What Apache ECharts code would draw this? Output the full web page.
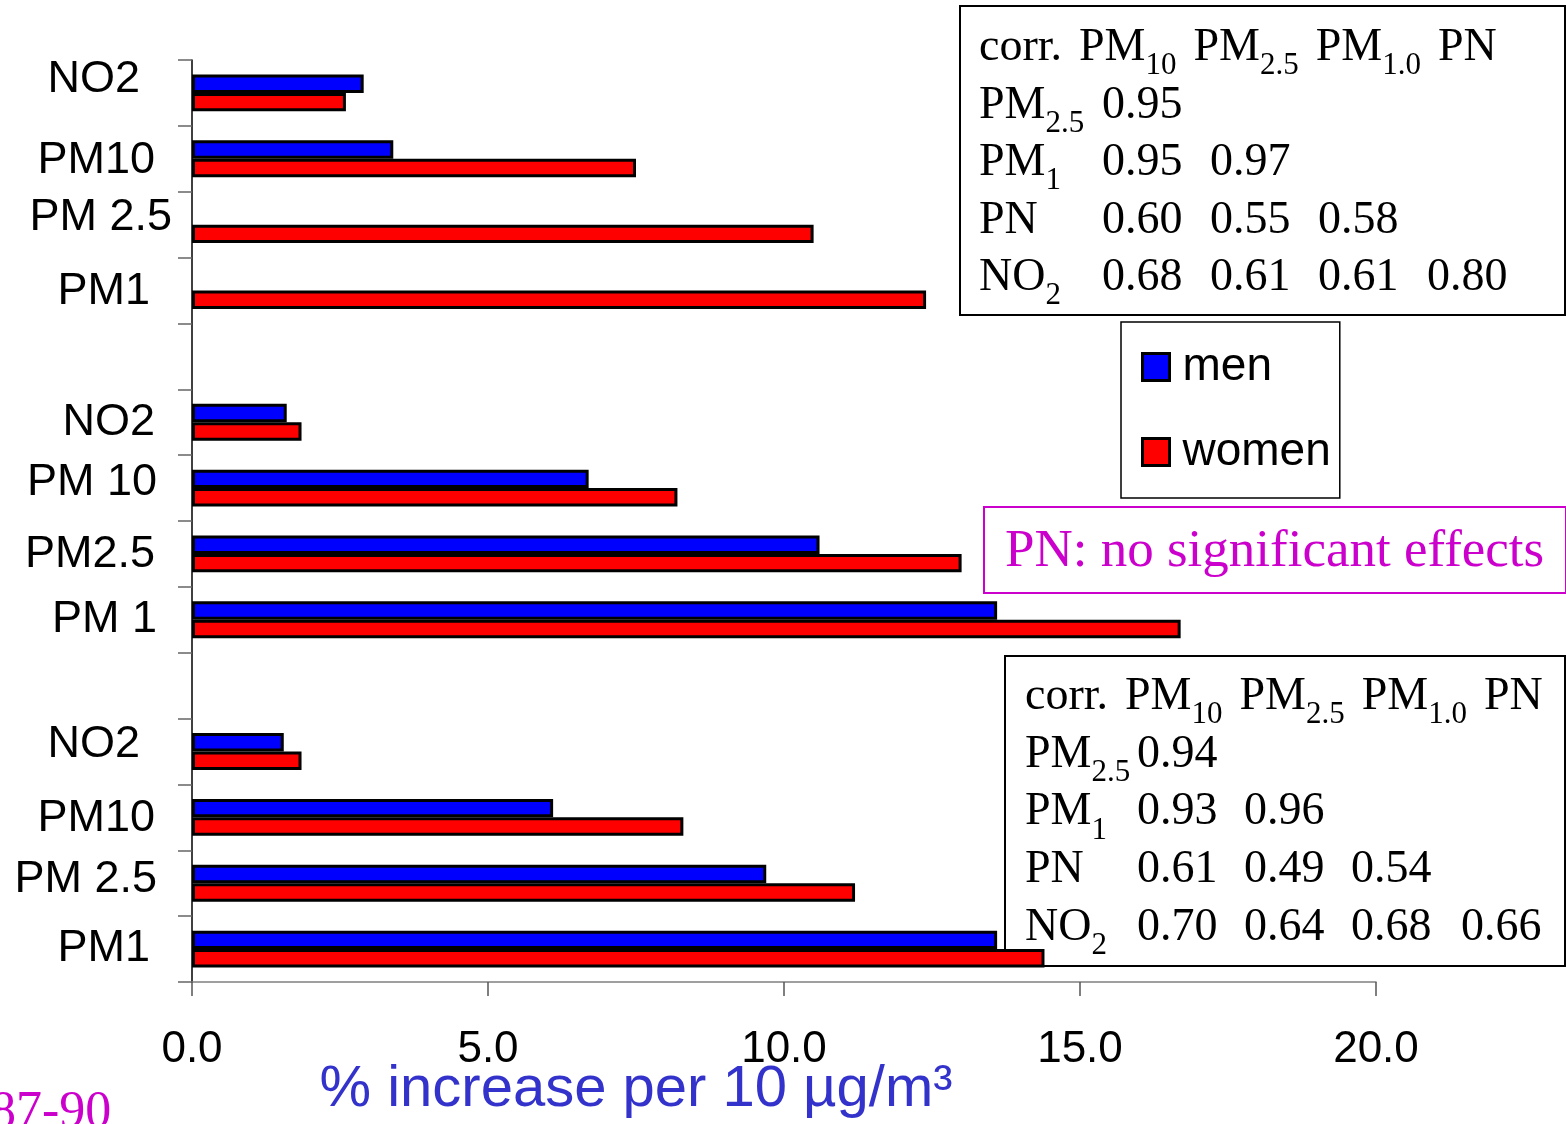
<!DOCTYPE html>
<html>
<head>
<meta charset="utf-8">
<title>% increase per 10 µg/m³</title>
<script src="https://cdn.jsdelivr.net/npm/echarts@6.0.0/dist/echarts.min.js"></script>
<style>
  html, body { margin: 0; padding: 0; background: #fff; }
  #chart { width: 1566px; height: 1124px; }
</style>
</head>
<body>
<div id="chart"></div>
<script>
// rows top to bottom, '' is the empty row between the three blocks
const categories = ['NO2', 'PM10', 'PM 2.5', 'PM1', '', 'NO2', 'PM 10', 'PM2.5', 'PM 1', '', 'NO2', 'PM10', 'PM 2.5', 'PM1']
const men = [2.9, 3.4, '-', '-', '-', 1.6, 6.7, 10.6, 13.6, '-', 1.55, 6.1, 9.7, 13.6]
const women = [2.6, 7.5, 10.5, 12.4, '-', 1.85, 8.2, 13.0, 16.7, '-', 1.85, 8.3, 11.2, 14.4]

// correlation tables: [main, subscript]
const corrHead = [['PM', '10'], ['PM', '2.5'], ['PM', '1.0'], ['PN', '']]
const corrRows = [['PM', '2.5'], ['PM', '1'], ['PN', ''], ['NO', '2']]
const corrTop = [[0.95], [0.95, 0.97], [0.60, 0.55, 0.58], [0.68, 0.61, 0.61, 0.80]]
const corrBottom = [[0.94], [0.93, 0.96], [0.61, 0.49, 0.54], [0.70, 0.64, 0.68, 0.66]]

const note = 'PN: no significant effects'
const period = '87-90'

// small nudges of the y labels: [shift left, shift up], they are not aligned in the original
const labelShift = [[32, 13], [17, -2], [0, 7], [22, -1], [0, 0], [17, 0], [15, 5], [17, -1], [15, 0], [0, 0], [32, 7], [17, -1], [15, 4], [22, 0]]

const chart = echarts.init(document.getElementById('chart'))

const serif = 'Liberation Serif'
const sans = 'Liberation Sans'

const rich = {}
labelShift.forEach((s, i) => {
  rich['l' + i] = {
    fontSize: 45,
    fontFamily: sans,
    color: '#000',
    padding: [Math.max(0, -2 * s[1]), s[0], Math.max(0, 2 * s[1]), 0]
  }
})

const tableRich = {
  n: { fontSize: 46, fontFamily: serif },
  g: { fontSize: 46, fontFamily: serif, width: 17 },
  s: { fontSize: 31, fontFamily: serif, padding: [36, 0, 0, 0] }
}
const sub = (p) => '{n|' + p[0] + '}' + (p[1] ? '{s|' + p[1] + '}' : '')

const txt = (x, y, text) => ({
  type: 'text',
  x: x,
  y: y,
  style: { text: text, fill: '#000', align: 'left', verticalAlign: 'middle', rich: tableRich, fontSize: 46, fontFamily: serif }
})

const corrTable = (box, left, top, step, colX, values) => {
  const els = [{
    type: 'rect',
    shape: box,
    style: { fill: 'none', stroke: '#000', lineWidth: 2 }
  }]
  els.push(txt(left, top, '{n|corr.}{g| }' + corrHead.map(sub).join('{g| }')))
  corrRows.forEach((r, i) => {
    els.push(txt(left, top + step * (i + 1), sub(r)))
    values[i].forEach((v, j) => {
      els.push(txt(colX[j], top + step * (i + 1), '{n|' + v.toFixed(2) + '}'))
    })
  })
  return els
}

const graphics = [].concat(
  corrTable({ x: 960, y: 6, width: 605, height: 309 }, 979, 48, 57.5, [1102, 1210, 1318, 1427], corrTop),
  corrTable({ x: 1005, y: 656, width: 560, height: 310 }, 1025, 697, 57.7, [1137, 1244, 1351, 1461], corrBottom),
  [
    {
      type: 'rect',
      shape: { x: 984, y: 507, width: 582, height: 86 },
      style: { fill: 'none', stroke: '#cc00cc', lineWidth: 2 }
    },
    {
      type: 'text',
      x: 1005,
      y: 552,
      style: { text: note, fill: '#cc00cc', fontSize: 53, fontFamily: serif, align: 'left', verticalAlign: 'middle' }
    },
    {
      type: 'text',
      x: -10,
      y: 1113,
      style: { text: period, fill: '#cc00cc', fontSize: 52, fontFamily: serif, align: 'left', verticalAlign: 'middle' }
    }
  ]
)

const option = {
  animation: false,
  backgroundColor: '#fff',
  grid: { left: 192, right: 190, top: 60, bottom: 142, outerBoundsMode: 'none', containLabel: false },
  legend: {
    orient: 'vertical',
    left: 1121,
    top: 322,
    padding: [22, 9, 23, 20],
    itemGap: 39,
    itemWidth: 27,
    itemHeight: 27,
    icon: 'rect',
    borderColor: '#000',
    borderWidth: 1.5,
    itemStyle: { borderColor: '#000', borderWidth: 3 },
    textStyle: { fontSize: 46, fontFamily: sans, color: '#000', padding: [0, 0, 0, 8] },
    data: ['men', 'women']
  },
  xAxis: {
    type: 'value',
    min: 0,
    max: 20,
    interval: 5,
    name: '% increase per 10 µg/m³',
    nameLocation: 'middle',
    nameGap: 79,
    nameMoveOverlap: false,
    nameTextStyle: { fontSize: 58, fontFamily: sans, color: '#3333cc', padding: [0, 296, 0, 0] },
    axisLine: { show: true, lineStyle: { color: '#808080', width: 1.5 } },
    axisTick: { show: true, length: 14, lineStyle: { color: '#555', width: 1.5 } },
    axisLabel: {
      margin: 46,
      fontSize: 44,
      fontFamily: sans,
      color: '#000',
      formatter: (v) => v.toFixed(1)
    },
    splitLine: { show: false }
  },
  yAxis: {
    type: 'category',
    inverse: true,
    data: categories,
    axisLine: { show: true, lineStyle: { color: '#000', width: 1.5 } },
    axisTick: { show: true, length: 14, lineStyle: { color: '#666', width: 1.5 } },
    axisLabel: {
      margin: 20,
      interval: 0,
      formatter: (v, i) => (v ? '{l' + i + '|' + v + '}' : ''),
      rich: rich
    }
  },
  series: [
    {
      name: 'men',
      type: 'bar',
      data: men,
      barGap: '0%',
      barCategoryGap: '44%',
      itemStyle: { color: '#0000ff', borderColor: '#000', borderWidth: 3 }
    },
    {
      name: 'women',
      type: 'bar',
      data: women,
      barGap: '0%',
      barCategoryGap: '44%',
      itemStyle: { color: '#ff0000', borderColor: '#000', borderWidth: 3 }
    }
  ],
  graphic: graphics
}

chart.setOption(option)
</script>
</body>
</html>
